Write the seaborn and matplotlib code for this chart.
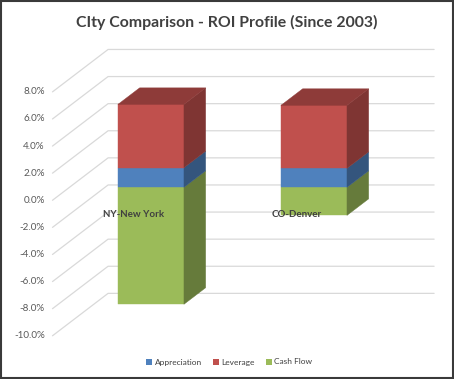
import matplotlib
matplotlib.use("Agg")
import matplotlib.pyplot as plt
from matplotlib.patches import Polygon, Patch, Rectangle
import seaborn as sns

# data (percent)
cities = ["NY-New York", "CO-Denver"]
series_names = ["Appreciation", "Leverage", "Cash Flow"]
appreciation = [1.45, 1.40]
leverage = [4.67, 4.65]
cash_flow = [-8.63, -2.07]
tick_values = [-10, -8, -6, -4, -2, 0, 2, 4, 6, 8]
tick_labels = [f"{t:.1f}%" for t in tick_values]

sns.set_theme(style="white")
plt.rcParams['font.family'] = ['Lato', 'DejaVu Sans']

colors = sns.color_palette(["#4F81BD", "#C0504D", "#9BBB59"])

# fake 3d (oblique) settings: full depth shift in (category units, % units)
DX, DY = 0.341, 3.13
BAR_D0, BAR_D1 = 0.305, 0.695
BAR_W = 0.405


def proj(x, v, d):
    return (x + d * DX, v + d * DY)


def shade(c, f):
    return tuple(min(1, ch * f) for ch in c)


fig = plt.figure(figsize=(4.54, 3.79), dpi=100)
ax = fig.add_axes([0, 0, 1, 1])
ax.set_xlim(-0.822, 1.963)
ax.set_ylim(-13.19, 14.78)
ax.axis("off")

# walls / gridlines
grid_c = "#D9D9D9"
for t, lab in zip(tick_values, tick_labels):
    p0, p1 = proj(-0.5, t, 0), proj(-0.5, t, 1)
    p2 = proj(1.5, t, 1)
    ax.plot([p0[0], p1[0], p2[0]], [p0[1], p1[1], p2[1]], color=grid_c, lw=0.9, zorder=1)
    ax.annotate(lab, xy=p0, xytext=(-5.5, 0), textcoords="offset points",
                ha="right", va="center", fontsize=7.1, color="#595959")

# stacked 3d bars
for i, city in enumerate(cities):
    vals = [appreciation[i], leverage[i], cash_flow[i]]
    pos, neg = 0.0, 0.0
    segs = []
    for k, v in enumerate(vals):
        if v >= 0:
            segs.append((k, pos, pos + v))
            pos += v
        else:
            segs.append((k, neg + v, neg))
            neg += v
    top = max(s[2] for s in segs)
    segs.sort(key=lambda s: s[1])
    x0, x1 = i - BAR_W / 2, i + BAR_W / 2
    for k, lo, hi in segs:
        c = colors[k]
        front = [proj(x0, lo, BAR_D0), proj(x1, lo, BAR_D0), proj(x1, hi, BAR_D0), proj(x0, hi, BAR_D0)]
        side = [proj(x1, lo, BAR_D0), proj(x1, lo, BAR_D1), proj(x1, hi, BAR_D1), proj(x1, hi, BAR_D0)]
        ax.add_patch(Polygon(front, closed=True, fc=c, ec=c, lw=0.3, zorder=3))
        ax.add_patch(Polygon(side, closed=True, fc=shade(c, 0.66), ec=shade(c, 0.66), lw=0.3, zorder=3))
        if hi == top:
            lid = [proj(x0, hi, BAR_D0), proj(x1, hi, BAR_D0), proj(x1, hi, BAR_D1), proj(x0, hi, BAR_D1)]
            ax.add_patch(Polygon(lid, closed=True, fc=shade(c, 0.74), ec=shade(c, 0.74), lw=0.3, zorder=3))
    ax.annotate(city, xy=proj(i, 0, 0), xytext=(0, -10.6), textcoords="offset points",
                ha="center", va="center", fontsize=7, fontweight="bold", color="#404040", zorder=5)

fig.text(0.5, 1 - 22 / 379, "CIty Comparison - ROI Profile (Since 2003)", ha="center", va="center",
         fontsize=11.4, fontweight="bold", color="#404040")

handles = [Patch(facecolor=colors[k], edgecolor="none", label=series_names[k]) for k in range(3)]
fig.legend(handles=handles, loc="center", bbox_to_anchor=(0.505, 1 - 362 / 379), ncol=3, frameon=False,
           fontsize=6, handlelength=0.7, handleheight=0.7, handletextpad=0.35, columnspacing=1.3,
           labelcolor="#404040")

fig.patches.append(Rectangle((0.002, 0.003), 0.995, 0.994, transform=fig.transFigure, fill=False,
                             ec="#3a3a3a", lw=1.5))

fig.savefig("out.png", dpi=100)
